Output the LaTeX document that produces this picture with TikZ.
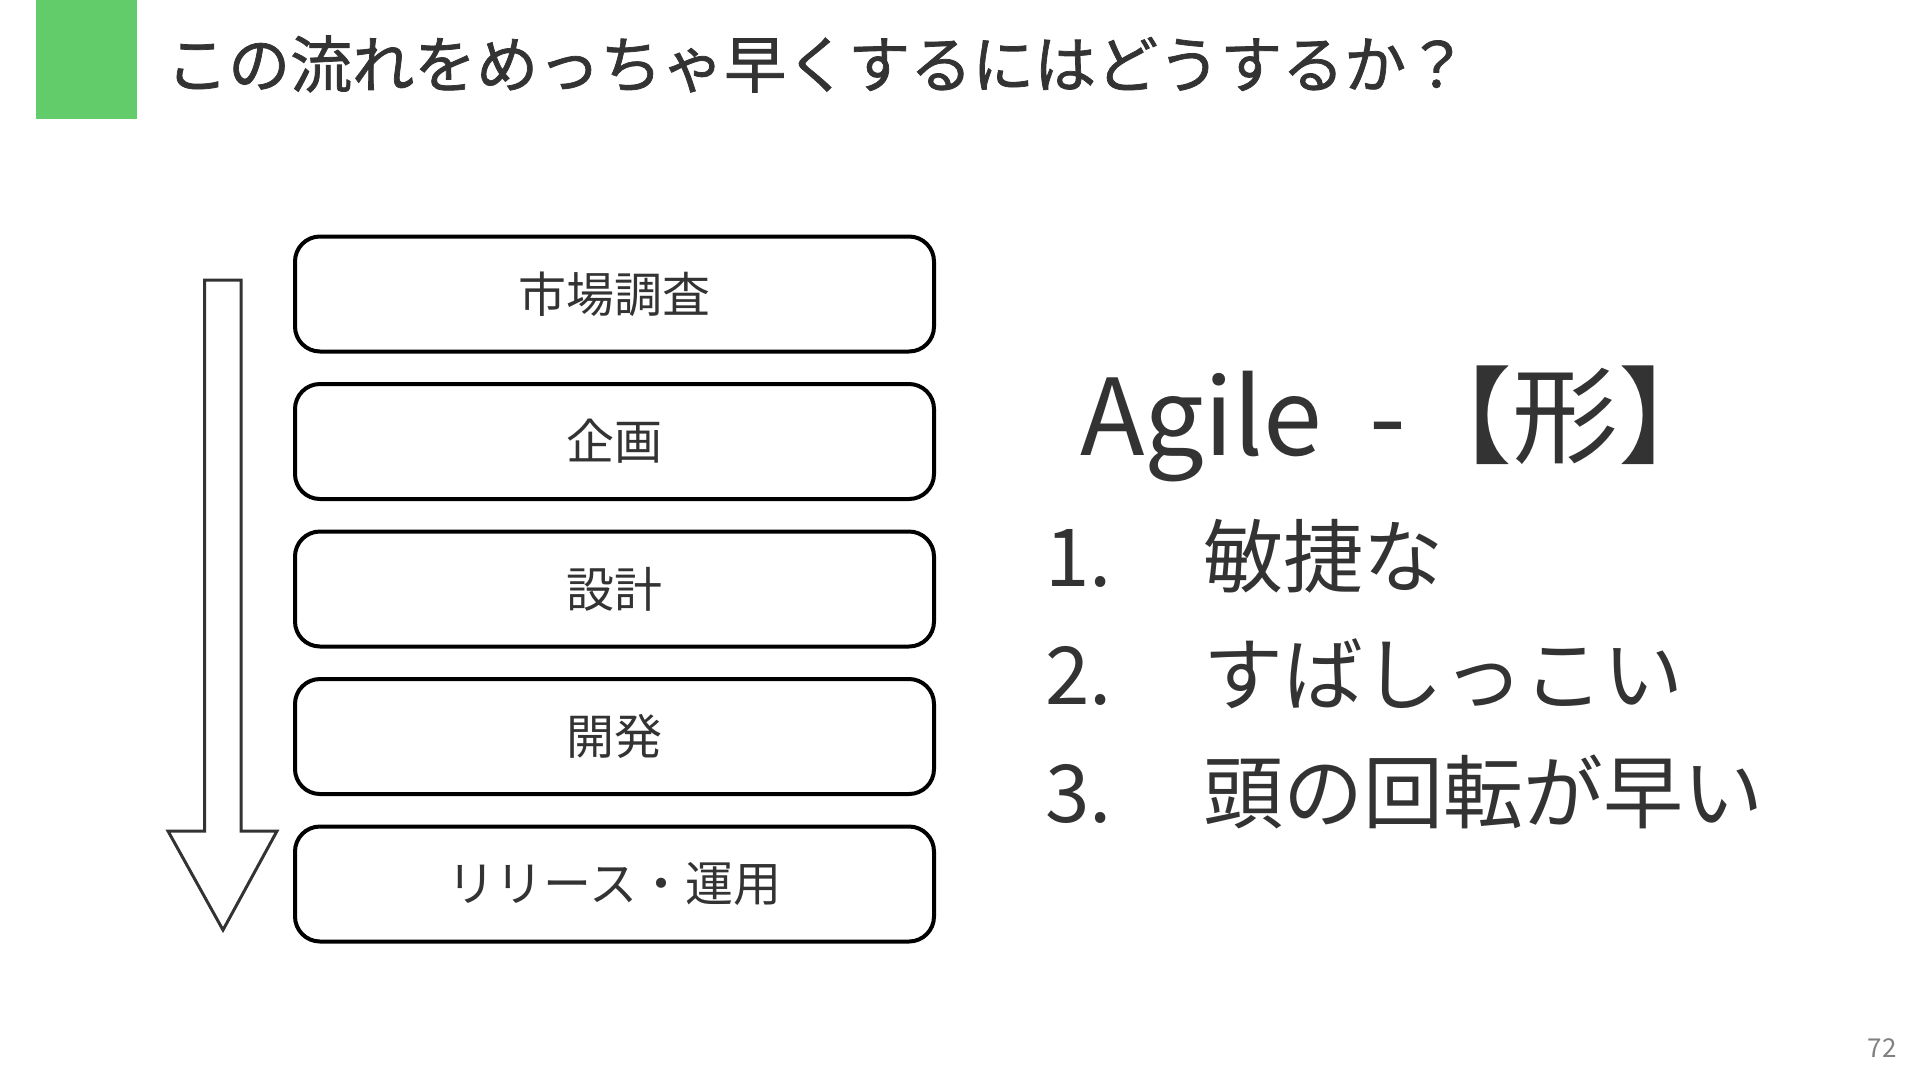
\documentclass[tikz,border=0pt]{standalone}
\usepackage{fontspec}
\setmainfont{Noto Sans CJK JP}
\newfontfamily\headfont{Noto Sans CJK JP}[FakeBold=1.2]
\usetikzlibrary{positioning}
\definecolor{slidegreen}{HTML}{62CC6A}
\definecolor{inkgray}{HTML}{333333}
\tikzstyle{stage} = [rectangle, rounded corners=25pt, minimum width=639pt, minimum height=115pt, text centered, draw=black, line width=4pt, fill=white, text=inkgray, outer sep=0pt, font=\fontsize{48}{52}\selectfont]
\tikzstyle{hollowarrow} = [draw=inkgray, line width=3pt, fill=white, line join=miter]

\begin{document}
\begin{tikzpicture}[x=1pt, y=-1pt,
        node distance=32.5pt,
        plain/.style={inner sep=0pt, text=inkgray},
        itemnum/.style={plain, anchor=base west, font=\fontsize{80}{82}\selectfont},
        itemtext/.style={plain, anchor=base west, font=\fontsize{80}{82}\selectfont}]

    \useasboundingbox[fill=white] (0,0) rectangle (1920,1080);

    % heading
    \fill[slidegreen] (35.5,0) rectangle (137,119);
    \node[plain, anchor=west, font=\headfont\fontsize{62}{66}\selectfont] (heading) at (166,64) {この流れをめっちゃ早くするにはどうするか？};

    % flow of stages
    \node[stage] (market) at (614.5,294) {市場調査};
    \node[stage, below=of market] (plan) {企画};
    \node[stage, below=of plan] (design) {設計};
    \node[stage, below=of design] (dev) {開発};
    \node[stage, below=of dev] (release) {リリース・運用};

    \draw[hollowarrow] (204.5,280) -- (241,280) -- (241,831) -- (277,831) -- (223,930)
        -- (168,831) -- (204.5,831) -- cycle;

    % agile
    \node[plain, anchor=base west, font=\fontsize{106}{110}\selectfont] (agile) at (1080,455) {Agile\ \ -【形】};
    \node[itemnum] (num1) at (1045,586) {1.};
    \node[itemtext] (item1) at (1203,586) {敏捷な};
    \node[itemnum] (num2) at (1045,704) {2.};
    \node[itemtext] (item2) at (1203,704) {すばしっこい};
    \node[itemnum] (num3) at (1045,822) {3.};
    \node[itemtext] (item3) at (1203,822) {頭の回転が早い};

    \node[plain, anchor=base east, text=gray, font=\fontsize{26}{28}\selectfont] (page) at (1897,1057) {72};
\end{tikzpicture}
\end{document}
